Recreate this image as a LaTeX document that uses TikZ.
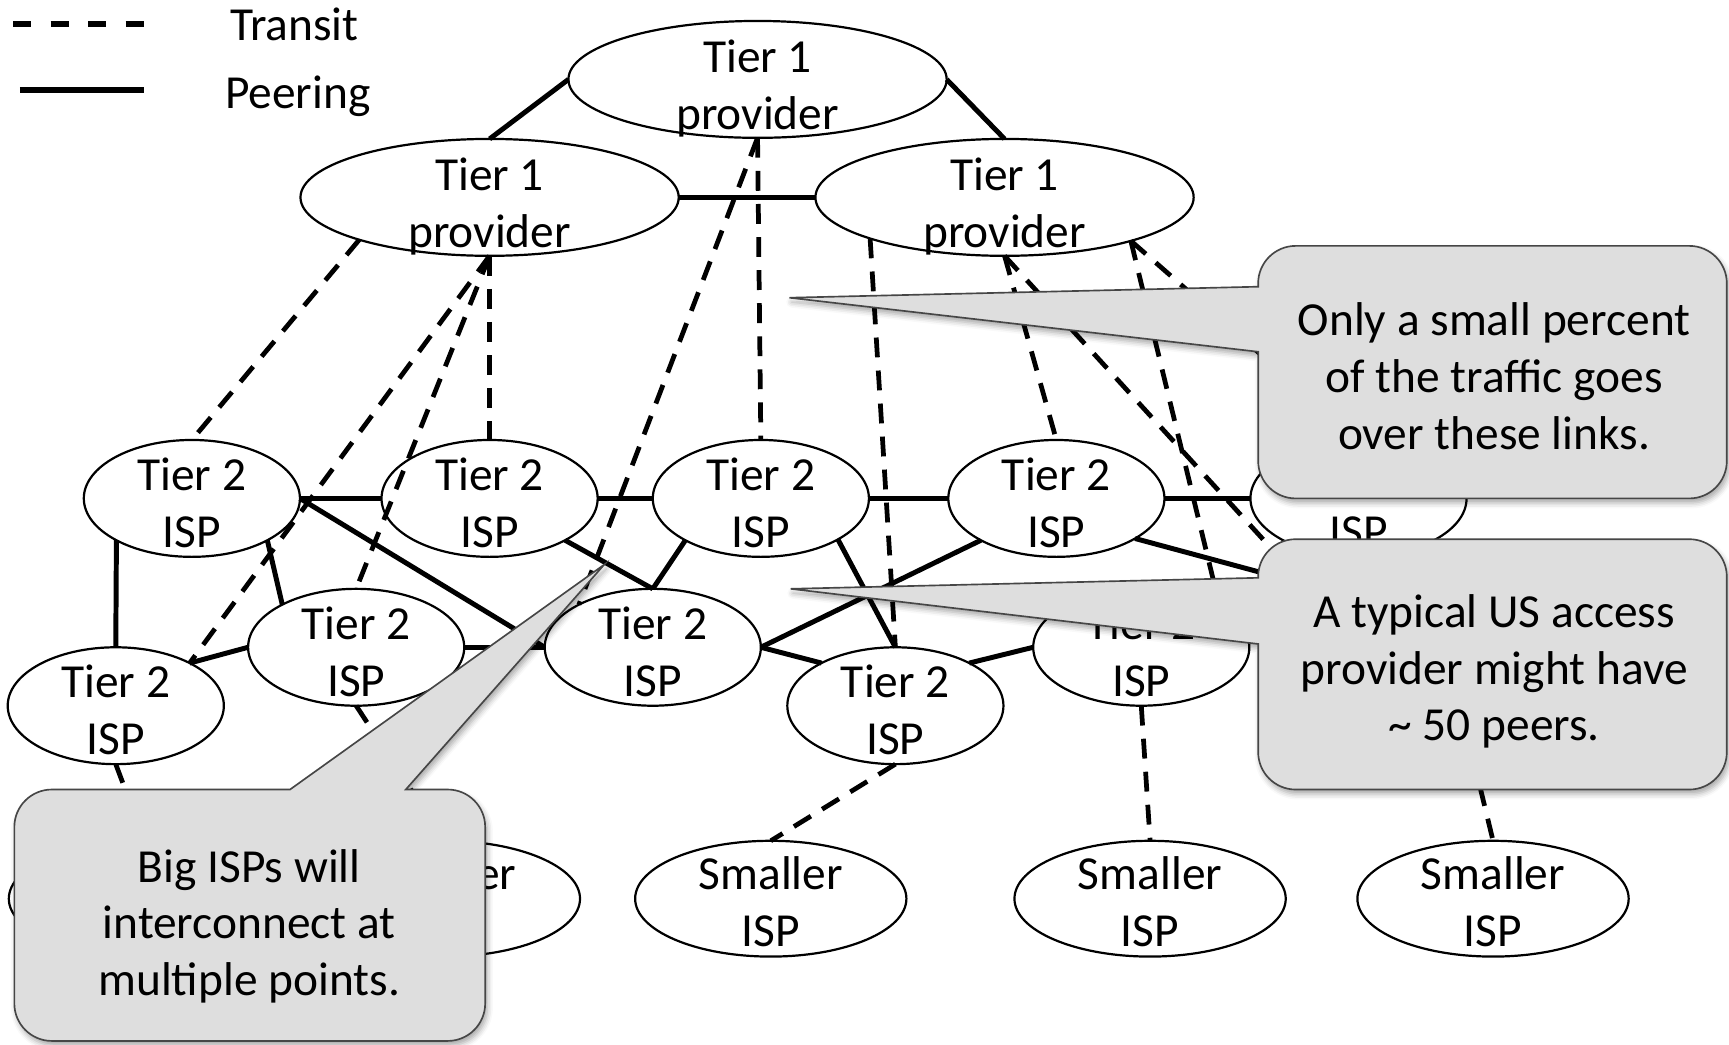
\documentclass[tikz,border=0pt]{standalone}
\usepackage{fontspec}
\setmainfont{Carlito}
\usetikzlibrary{shapes.geometric,shadows.blur}

\definecolor{calloutfill}{RGB}{222,222,222}
\definecolor{calloutline}{RGB}{70,70,70}

\begin{document}
\begin{tikzpicture}[x=1pt, y=-1pt,
  every node/.style={inner sep=0pt, outer sep=0pt},
  lbl/.style={align=center, font=\fontsize{43}{52}\selectfont},
  note/.style={align=center, font=\fontsize{43}{51.5}\selectfont},
  ball/.style={ellipse, draw, line width=2pt},
  tierone/.style={ball, minimum width=343pt, minimum height=106pt},
  tiertwo/.style={ball, minimum width=196pt, minimum height=106pt},
  smallisp/.style={ball, minimum width=246pt, minimum height=105pt},
  peer/.style={line width=4.5pt},
  transit/.style={line width=4.3pt, dash pattern=on 18pt off 12pt},
  legpeer/.style={line width=5.5pt},
  legtransit/.style={line width=5.5pt, dash pattern=on 16.5pt off 17.5pt},
  callout/.style={fill=calloutfill, draw=calloutline, line width=1.5pt,
    blur shadow={shadow xshift=2pt, shadow yshift=-4pt, shadow blur radius=5pt, shadow opacity=35}},
]
\useasboundingbox (0,0) rectangle (1568,947);

% ---------- legend ----------
\coordinate (lt0) at (12,22);  \coordinate (lt1) at (131,22);
\coordinate (lp0) at (18,82);  \coordinate (lp1) at (131,82);
\draw[legtransit] (lt0) -- (lt1);
\draw[legpeer] (lp0) -- (lp1);
\node[lbl, anchor=base] (ltxt) at (267,37) {Transit};
\node[lbl, anchor=base] (lptxt) at (270,98) {Peering};

% ---------- providers ----------
\node[tierone] (t1top)   at (687,72)  {};
\node[tierone] (t1left)  at (444,179) {};
\node[tierone] (t1right) at (911,179) {};

\node[tiertwo] (r1a) at (174,452)  {};
\node[tiertwo] (r1b) at (444,452)  {};
\node[tiertwo] (r1c) at (690,452)  {};
\node[tiertwo] (r1d) at (958,452)  {};
\node[tiertwo] (r1e) at (1232,452) {};
\node[tiertwo] (r2a) at (323,587)  {};
\node[tiertwo] (r2b) at (592,587)  {};
\node[tiertwo] (r2c) at (1035,587) {};
\node[tiertwo] (r3a) at (105,640)  {};
\node[tiertwo] (r3b) at (812,640)  {};

\node[smallisp] (s1) at (131,815)  {};
\node[smallisp] (s2) at (403,815)  {};
\node[smallisp] (s3) at (699,815)  {};
\node[smallisp] (s4) at (1043,815) {};
\node[smallisp] (s5) at (1354,815) {};

% ends of links running under the callouts
\coordinate (hidpeer)  at (1180,529);
\coordinate (hidtrans) at (1180,527);
\coordinate (hidsmall) at (1328,655);

% ---------- peering links ----------
\draw[peer] (t1left.north) -- (t1top.west);
\draw[peer] (t1top.east) -- (t1right.north);
\draw[peer] (t1left.east) -- (t1right.west);
\draw[peer] (r1a.east) -- (r1b.west);
\draw[peer] (r1b.east) -- (r1c.west);
\draw[peer] (r1c.east) -- (r1d.west);
\draw[peer] (r1d.east) -- (r1e.west);
\draw[peer] (r1a.209) -- (r3a.north);
\draw[peer] (r1a.-29) -- (r2a.150);
\draw[peer] (r1a.east) -- (r2b.west);
\draw[peer] (r2a.east) -- (r2b.west);
\draw[peer] (r2a.west) -- (r3a.30);
\draw[peer] (r1b.-29) -- (r2b.north);
\draw[peer] (r1c.209) -- (r2b.north);
\draw[peer] (r1c.-28) -- (r3b.north);
\draw[peer] (r1d.209) -- (r2b.east);
\draw[peer] (r2b.east) -- (r3b.150);
\draw[peer] (r3b.30) -- (r2c.west);
\draw[peer] (r1d.-27) -- (hidpeer);

% ---------- transit links ----------
\draw[transit] (t1left.198) -- (r1a.north);
\draw[transit] (t1left.south) -- (r1b.north);
\draw[transit] (t1left.south) -- (r2a.north);
\draw[transit] (t1left.south) -- (r3a.30);
\draw[transit] (t1top.south) -- (r1c.north);
\draw[transit] (t1top.south) -- (r2b.150);
\draw[transit] (t1right.197) -- (r3b.north);
\draw[transit] (t1right.south) -- (r1d.north);
\draw[transit] (t1right.south) -- (hidtrans);
\draw[transit] (t1right.-19) -- (r2c.27);
\draw[transit] (t1right.-19) -- (r1e.north);
\draw[transit] (r2c.south) -- (s4.north);
\draw[transit] (r3b.south) -- (s3.north);
\draw[transit] (r3a.south) -- (s1.north);
\draw[transit] (r2a.south) -- (s2.north);
\draw[transit] (hidsmall) -- (s5.north);

% ---------- labels ----------
\node[lbl] (t1top-l)   at (687,80)  {Tier 1\\provider};
\node[lbl] (t1left-l)  at (444,187) {Tier 1\\provider};
\node[lbl] (t1right-l) at (911,187) {Tier 1\\provider};
\node[lbl] (r1a-l) at (174,456)  {Tier 2\\ISP};
\node[lbl] (r1b-l) at (444,456)  {Tier 2\\ISP};
\node[lbl] (r1c-l) at (690,456)  {Tier 2\\ISP};
\node[lbl] (r1d-l) at (958,456)  {Tier 2\\ISP};
\node[lbl] (r1e-l) at (1232,456) {Tier 2\\ISP};
\node[lbl] (r2a-l) at (323,591)  {Tier 2\\ISP};
\node[lbl] (r2b-l) at (592,591)  {Tier 2\\ISP};
\node[lbl] (r2c-l) at (1035,591) {Tier 2\\ISP};
\node[lbl] (r3a-l) at (105,644)  {Tier 2\\ISP};
\node[lbl] (r3b-l) at (812,644)  {Tier 2\\ISP};
\node[lbl] (s1-l) at (131,818)  {Smaller\\ISP};
\node[lbl] (s2-l) at (403,818)  {Smaller\\ISP};
\node[lbl] (s3-l) at (699,818)  {Smaller\\ISP};
\node[lbl] (s4-l) at (1043,818) {Smaller\\ISP};
\node[lbl] (s5-l) at (1354,818) {Smaller\\ISP};

% ---------- callouts ----------
\path[callout] (716,270) -- (1141,319) [rounded corners=34pt] -- (1141,452)
  -- (1566,452) -- (1566,223) -- (1141,223) [sharp corners] -- (1141,260) -- cycle;
\node[note] (note1) at (1355,341) {Only a small percent\\of the traffic goes\\over these links.};

\path[callout] (717,534) -- (1141,584) [rounded corners=34pt] -- (1141,716)
  -- (1566,716) -- (1566,489) -- (1141,489) [sharp corners] -- (1141,524) -- cycle;
\node[note] (note2) at (1355,609) {A typical US access\\provider might have\\\textasciitilde{} 50 peers.};

\path[callout] (548,512) -- (368,716) [rounded corners=34pt] -- (440,716)
  -- (440,944) -- (13,944) -- (13,716) [sharp corners] -- (263,716) -- cycle;
\node[note] (note3) at (226,840) {Big ISPs will\\interconnect at\\multiple points.};
\end{tikzpicture}
\end{document}
